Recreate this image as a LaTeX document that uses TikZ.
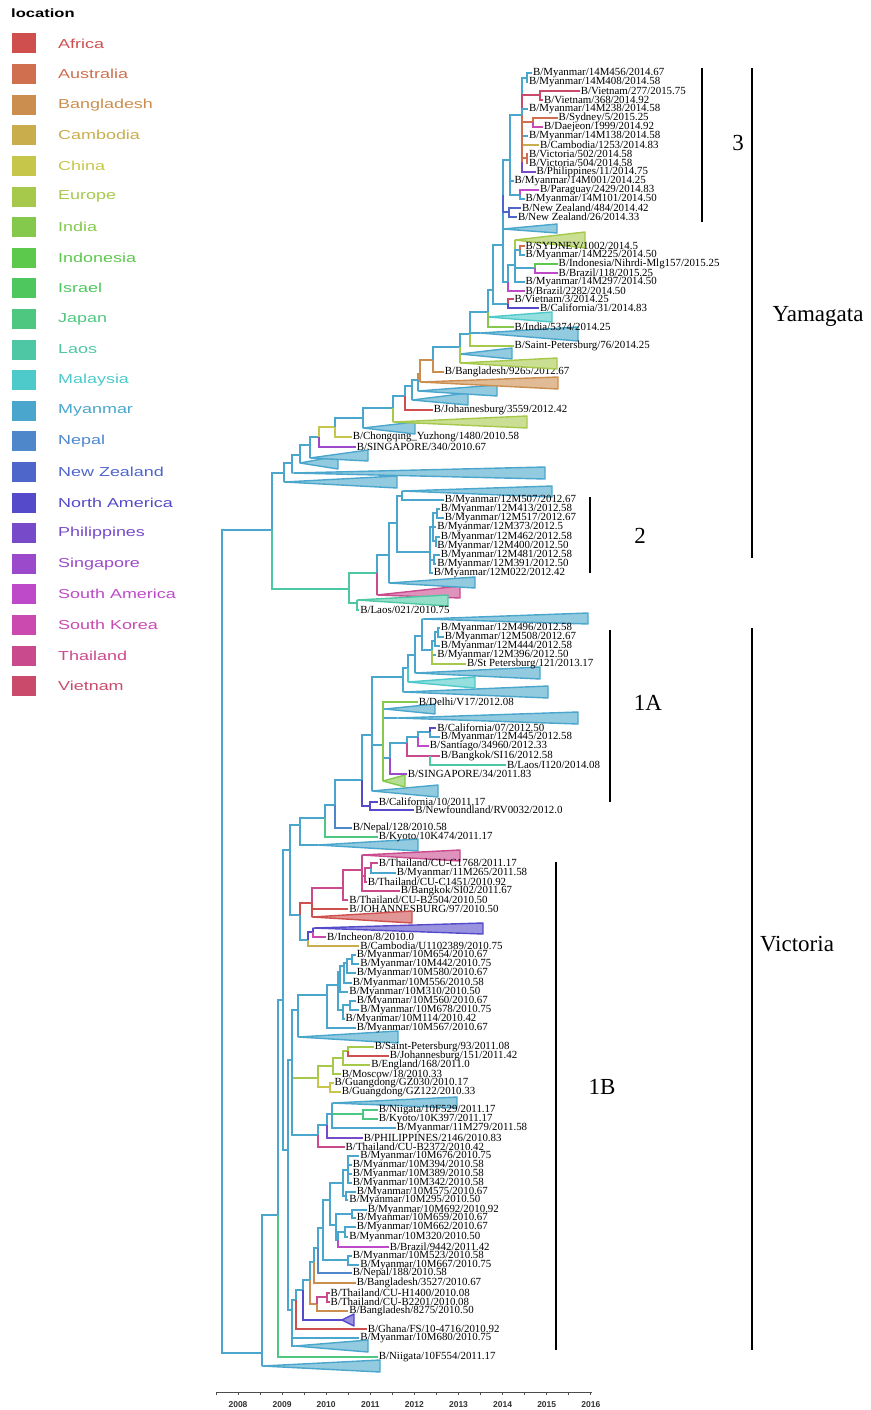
\documentclass[tikz,border=0pt]{standalone}
\usepackage{fontspec}
\setmainfont{Liberation Serif}
\newfontfamily\legfont[FakeStretch=1.38]{Liberation Sans}
\newfontfamily\axfont{Liberation Sans}

\definecolor{afr}{HTML}{CF4F4F}
\definecolor{aus}{HTML}{CF6F4F}
\definecolor{ban}{HTML}{CC8E4F}
\definecolor{cam}{HTML}{C9AD4C}
\definecolor{chn}{HTML}{C6C64B}
\definecolor{eur}{HTML}{A6C94B}
\definecolor{ind}{HTML}{84C94C}
\definecolor{ido}{HTML}{5CC84C}
\definecolor{isr}{HTML}{4EC85E}
\definecolor{jap}{HTML}{4EC880}
\definecolor{lao}{HTML}{4EC8A4}
\definecolor{mal}{HTML}{4ECACA}
\definecolor{mya}{HTML}{4AA6CC}
\definecolor{nep}{HTML}{4E87CA}
\definecolor{nzl}{HTML}{4E65CA}
\definecolor{nam}{HTML}{554ACA}
\definecolor{phi}{HTML}{774ACA}
\definecolor{sgp}{HTML}{9A4ACA}
\definecolor{sam}{HTML}{BE4ACA}
\definecolor{kor}{HTML}{CA4AB0}
\definecolor{tha}{HTML}{CA4A8E}
\definecolor{vie}{HTML}{CA4A6C}

\tikzset{
  br/.style={draw=#1, line width=2.2pt},
  tri/.style={draw=#1, fill=#1!60!white, line width=1.4pt, line join=round},
  lab/.style={anchor=west, inner sep=0.8pt, font=\fontsize{10.9}{11}\selectfont},
  leg/.style={anchor=west, inner sep=0pt, font=\legfont\fontsize{13}{13}\selectfont},
  brk/.style={draw=black, line width=1.1pt},
  clab/.style={font=\fontsize{23}{23}\selectfont},
  axis/.style={draw=black!70, line width=0.8pt}
}

% date -> x position
\newcommand{\yr}[1]{238+(#1-2008)*44.1}
% inner tree node: name, parent, colour, x, y
\newcommand{\fork}[5]{\coordinate (#1) at (#4,#5); \draw[br=#3] (#2) |- (#1);}
% tip: name, parent, colour, y, date, strain
\newcommand{\leaf}[6]{\node[lab] (#1) at ({\yr{#5}},#4) {#6/#5}; \draw[br=#3] (#2) |- (#1.west);}
% collapsed clade: name, parent, colour, x, y, right x, top y, bottom y
\newcommand{\clade}[8]{\coordinate (#1) at (#4,#5); \draw[br=#3] (#2) |- (#1);
  \draw[tri=#3] (#1) -- (#6,#7) -- (#6,#8) -- cycle;}

\begin{document}
\begin{tikzpicture}[x=1pt,y=-1pt]
\useasboundingbox (0,0) rectangle (870,1410);

% legend
\node[leg,font=\legfont\bfseries\fontsize{12}{12}\selectfont] (legtitle) at (11,13) {location};
\foreach \c/\t [count=\i from 0] in {afr/Africa,aus/Australia,ban/Bangladesh,cam/Cambodia,chn/China,eur/Europe,ind/India,ido/Indonesia,isr/Israel,jap/Japan,lao/Laos,mal/Malaysia,mya/Myanmar,nep/Nepal,nzl/New Zealand,nam/North America,phi/Philippines,sgp/Singapore,sam/South America,kor/South Korea,tha/Thailand,vie/Vietnam}{
  \fill[\c] (12,{33.5+\i*30.6}) rectangle (36,{53.5+\i*30.6});
  \node[leg,text=\c] (leg\i) at (58,{43.5+\i*30.6}) {\t};
}

% root
\coordinate (root) at (222,940);

% ---- Yamagata
\fork{A}{root}{mya}{272}{530}
\fork{A1}{A}{mya}{284}{473}
\fork{B}{A}{lao}{349}{589}
\fork{A2}{A1}{mya}{292}{463}
\clade{A1t}{A1}{mya}{284}{482}{397}{476}{488}
\fork{A3}{A2}{mya}{300}{455}
\clade{A2t}{A2}{mya}{292}{473}{545}{467}{479}
\fork{A4}{A3}{mya}{310}{445}
\clade{A3t}{A3}{mya}{300}{463}{338}{456}{469}
\fork{P}{A4}{mya}{319}{437}
\clade{A4t}{A4}{mya}{310}{458}{368}{450}{461}
\fork{Q}{P}{chn}{335}{427}
\leaf{sg340}{P}{sgp}{447}{2010.67}{B/SINGAPORE/340}
\fork{R}{Q}{mya}{363}{418}
\leaf{cq1480}{Q}{chn}{437}{2010.58}{B/Chongqing\_Yuzhong/1480}
\fork{S}{R}{mya}{393}{408}
\clade{Rt}{R}{mya}{363}{428}{415}{422}{434}
\fork{U}{S}{mya}{405}{396}
\clade{St}{S}{eur}{393}{422}{527}{416}{428}
\fork{V}{U}{mya}{412}{386}
\leaf{jo3559}{U}{afr}{410}{2012.42}{B/Johannesburg/3559}
\fork{W}{V}{mya}{418}{380}
\clade{Vt}{V}{mya}{412}{400}{468}{393}{405}
\fork{X}{W}{ban}{420}{374}
\clade{Wt}{W}{mya}{418}{391}{497}{385}{396}
\fork{Z}{X}{ban}{433}{360}
\clade{Xt}{X}{ban}{420}{382}{558}{377}{389}
\fork{AA}{Z}{mya}{460}{347}
\leaf{bd9265}{Z}{ban}{372}{2012.67}{B/Bangladesh/9265}
\fork{AB}{AA}{mya}{470}{334}
\clade{AAt}{AA}{mya}{460}{354}{512}{348}{359}
\clade{AAe}{AA}{eur}{460}{363}{557}{358}{369}
\fork{AC}{AB}{mya}{488}{312}
\clade{ABt}{AB}{mya}{480}{333}{578}{327}{341}
\leaf{sp76}{AB}{eur}{346}{2014.25}{B/Saint-Petersburg/76}
\fork{AD}{AC}{mya}{493}{290}
\clade{ACt}{AC}{mal}{488}{317}{552}{312}{322}
\leaf{in5374}{AC}{ind}{327}{2014.25}{B/India/5374}
\fork{AE}{AD}{mya}{503}{245}
\fork{vc3}{AD}{mya}{508}{304}
\leaf{vn3}{vc3}{vie}{299}{2014.25}{B/Vietnam/3}
\leaf{ca31}{vc3}{nam}{308}{2014.83}{B/California/31}
\fork{C3r}{AE}{mya}{503}{195}
\clade{AEt}{AE}{mya}{503}{229}{557}{224}{233}
\fork{AG}{AE}{mya}{508}{282}
\fork{AF}{AG}{mya}{515}{265}
\leaf{br2282}{AG}{sam}{291}{2014.50}{B/Brazil/2282}
\clade{AFe}{AF}{eur}{515}{240}{585}{232}{248}
\fork{SY}{AF}{mya}{520}{250}
\leaf{sy1002}{SY}{aus}{246}{2014.5}{B/SYDNEY/1002}
\leaf{m14M225}{SY}{mya}{255}{2014.50}{B/Myanmar/14M225}
\fork{IB}{AF}{mya}{535}{268}
\leaf{id157}{IB}{ido}{264}{2015.25}{B/Indonesia/Nihrdi-Mlg157}
\leaf{br118}{IB}{sam}{273}{2015.25}{B/Brazil/118}
\leaf{m14M297}{AF}{mya}{282}{2014.50}{B/Myanmar/14M297}

% clade 3
\fork{C3a}{C3r}{mya}{510}{160}
\fork{NZn}{C3r}{nzl}{509}{212}
\leaf{nz484}{NZn}{nzl}{208}{2014.42}{B/New Zealand/484}
\leaf{nz26}{NZn}{nzl}{217}{2014.33}{B/New Zealand/26}
\fork{C3b}{C3a}{mya}{522}{115}
\leaf{m14M001}{C3a}{mya}{181}{2014.25}{B/Myanmar/14M001}
\fork{PM}{C3a}{mya}{520}{195}
\leaf{pa2429}{PM}{sam}{190}{2014.83}{B/Paraguay/2429}
\leaf{m14M101}{PM}{mya}{199}{2014.50}{B/Myanmar/14M101}
\fork{TopN}{C3b}{mya}{527}{78}
\leaf{m14M456}{TopN}{mya}{73}{2014.67}{B/Myanmar/14M456}
\leaf{m14M408}{TopN}{mya}{82}{2014.58}{B/Myanmar/14M408}
\fork{VN}{C3b}{vie}{540}{95}
\leaf{vn277}{VN}{vie}{91}{2015.75}{B/Vietnam/277}
\leaf{vn368}{VN}{vie}{100}{2014.92}{B/Vietnam/368}
\leaf{m14M238}{C3b}{mya}{109}{2014.58}{B/Myanmar/14M238}
\fork{SD}{C3b}{aus}{533}{122}
\leaf{sy5}{SD}{aus}{118}{2015.25}{B/Sydney/5}
\leaf{dj1999}{SD}{kor}{127}{2014.92}{B/Daejeon/1999}
\leaf{m14M138}{C3b}{mya}{136}{2014.58}{B/Myanmar/14M138}
\leaf{cb1253}{C3b}{cam}{145}{2014.83}{B/Cambodia/1253}
\fork{VP}{C3b}{aus}{522}{162}
\fork{VIC}{VP}{aus}{527}{158}
\leaf{vi502}{VIC}{aus}{154}{2014.58}{B/Victoria/502}
\leaf{vi504}{VIC}{aus}{163}{2014.58}{B/Victoria/504}
\leaf{ph11}{VP}{phi}{172}{2014.75}{B/Philippines/11}

% clade 2
\fork{C}{B}{lao}{357}{603}
\fork{D}{B}{lao}{377}{573}
\fork{E}{D}{mya}{389}{555}
\clade{Dt}{D}{tha}{377}{595}{460}{586}{598}
\fork{F}{E}{mya}{397}{523}
\clade{Et}{E}{mya}{389}{583}{475}{577}{588}
\fork{G}{F}{mya}{402}{496}
\fork{H}{F}{mya}{430}{552}
\clade{Gt}{G}{mya}{402}{491}{552}{486}{497}
\leaf{m12M507}{G}{mya}{500}{2012.67}{B/Myanmar/12M507}
\fork{H1}{H}{mya}{433}{527}
\fork{H2}{H}{mya}{434}{560}
\leaf{m12M022}{H}{mya}{573}{2012.42}{B/Myanmar/12M022}
\fork{P413}{H1}{mya}{437}{513}
\leaf{m12M413}{P413}{mya}{509}{2012.58}{B/Myanmar/12M413}
\leaf{m12M517}{P413}{mya}{518}{2012.67}{B/Myanmar/12M517}
\leaf{m12M373}{H1}{mya}{527}{2012.5}{B/Myanmar/12M373}
\fork{H1b}{H1}{mya}{436}{541}
\leaf{m12M462}{H1b}{mya}{537}{2012.58}{B/Myanmar/12M462}
\leaf{m12M400}{H1b}{mya}{546}{2012.50}{B/Myanmar/12M400}
\leaf{m12M481}{H2}{mya}{555}{2012.58}{B/Myanmar/12M481}
\leaf{m12M391}{H2}{mya}{564}{2012.50}{B/Myanmar/12M391}
\clade{Ct}{C}{lao}{357}{600}{448}{595}{606}
\leaf{la021}{C}{lao}{610}{2010.75}{B/Laos/021}

% ---- Victoria
\fork{V0}{root}{mya}{262}{1353}
\fork{V1}{V0}{mya}{278}{1215}
\clade{V0t}{V0}{mya}{262}{1366}{380}{1360}{1372}
\fork{V2}{V1}{mya}{283}{1000}
\leaf{ni554}{V1}{jap}{1357}{2011.17}{B/Niigata/10F554}
\fork{VA}{V2}{mya}{290}{850}
\fork{VB}{V2}{mya}{288}{1150}
\fork{N15}{VA}{mya}{300}{825}
\fork{RB}{VA}{mya}{300}{915}
\fork{N14}{N15}{mya}{325}{818}
\clade{N15t}{N15}{mya}{318}{845}{418}{839}{851}
\fork{N13}{N14}{mya}{335}{805}
\leaf{ky474}{N14}{jap}{837}{2011.17}{B/Kyoto/10K474}
\fork{N12}{N13}{mya}{362}{780}
\leaf{np128}{N13}{nep}{828}{2010.58}{B/Nepal/128}
\fork{N10}{N12}{mya}{372}{735}
\fork{CN}{N12}{nam}{370}{806}
\leaf{ca10}{CN}{nam}{802}{2011.17}{B/California/10}
\leaf{nf32}{CN}{nam}{810}{2012.0}{B/Newfoundland/RV0032}

% clade 1A
\fork{N4}{N10}{mya}{403}{677}
\fork{N6}{N10}{mya}{383}{745}
\clade{N10t}{N10}{mya}{372}{791}{438}{785}{797}
\fork{N3}{N4}{mya}{408}{668}
\clade{N4t}{N4}{mya}{403}{692}{548}{686}{698}
\fork{N2}{N3}{mya}{415}{655}
\clade{N3t}{N3}{mal}{408}{682}{475}{677}{688}
\fork{N1}{N2}{mya}{422}{636}
\clade{N2t}{N2}{mya}{415}{673}{540}{667}{679}
\clade{N1t}{N1}{mya}{422}{619}{588}{613}{624}
\fork{K}{N1}{mya}{432}{650}
\fork{K1}{K}{mya}{435}{641}
\fork{K2}{K1}{mya}{438}{632}
\leaf{m12M496}{K2}{mya}{628}{2012.58}{B/Myanmar/12M496}
\leaf{m12M508}{K2}{mya}{637}{2012.67}{B/Myanmar/12M508}
\leaf{m12M444}{K1}{mya}{646}{2012.58}{B/Myanmar/12M444}
\leaf{m12M396}{K}{mya}{655}{2012.50}{B/Myanmar/12M396}
\leaf{sp121}{K}{eur}{664}{2013.17}{B/St Petersburg/121}
\clade{N6a}{N6}{mya}{385}{709}{435}{704}{714}
\clade{N6b}{N6}{mya}{397}{718}{578}{712}{724}
\fork{N7}{N6}{mya}{390}{758}
\leaf{dl17}{N6}{ind}{702}{2012.08}{B/Delhi/V17}
\clade{N6c}{N6}{ind}{383}{781}{405}{775}{787}
\fork{N8}{N7}{mya}{407}{743}
\leaf{sg34}{N7}{sgp}{774}{2011.83}{B/SINGAPORE/34}
\fork{N9}{N8}{mya}{418}{737}
\leaf{bk16}{N8}{tha}{756}{2012.58}{B/Bangkok/SI16}
\fork{LB}{N8}{tha}{430}{756}
\leaf{la1120}{LB}{lao}{765}{2014.08}{B/Laos/I120}
\fork{CM}{N9}{mya}{430}{732}
\leaf{sa34960}{N9}{sam}{746}{2012.33}{B/Santiago/34960}
\leaf{ca07}{CM}{nam}{728}{2012.50}{B/California/07}
\leaf{m12M445}{CM}{mya}{737}{2012.58}{B/Myanmar/12M445}

% Thailand / Africa group
\fork{RA}{RB}{afr}{312}{903}
\fork{IC}{RB}{mya}{308}{940}
\fork{TD}{RA}{tha}{343}{888}
\leaf{jo97}{RA}{afr}{909}{2010.50}{B/JOHANNESBURG/97}
\clade{RAt}{RA}{afr}{312}{917}{412}{911}{923}
\fork{TC}{TD}{tha}{362}{870}
\leaf{thB2504}{TD}{tha}{900}{2010.50}{B/Thailand/CU-B2504}
\clade{TCt}{TC}{tha}{362}{855}{460}{850}{861}
\fork{TB}{TC}{tha}{365}{876}
\leaf{bk02}{TC}{tha}{891}{2011.67}{B/Bangkok/SI02}
\fork{TA}{TB}{tha}{371}{868}
\leaf{thC1451}{TB}{tha}{882}{2010.92}{B/Thailand/CU-C1451}
\leaf{thC1768}{TA}{tha}{863}{2011.17}{B/Thailand/CU-C1768}
\leaf{m11M265}{TA}{mya}{873}{2011.58}{B/Myanmar/11M265}
\fork{IN}{IC}{nam}{313}{932}
\leaf{cbU}{IC}{cam}{946}{2010.75}{B/Cambodia/U1102389}
\clade{INt}{IN}{nam}{313}{928}{483}{923}{934}
\leaf{ic8}{IN}{kor}{937}{2010.0}{B/Incheon/8}

% clade 1B
\fork{VC}{VB}{mya}{292}{1060}
\fork{VD}{VB}{mya}{292}{1310}
\fork{M9}{VC}{mya}{298}{1010}
\fork{E4}{VC}{eur}{318}{1078}
\fork{J5}{VC}{mya}{318}{1135}
\fork{M8}{M9}{mya}{327}{995}
\clade{M9t}{M9}{mya}{298}{1037}{398}{1031}{1043}
\fork{M7}{M8}{mya}{338}{985}
\leaf{m10M567}{M8}{mya}{1028}{2010.67}{B/Myanmar/10M567}
\fork{M4}{M7}{mya}{340}{972}
\fork{M6}{M7}{mya}{343}{1010}
\fork{M3}{M4}{mya}{344}{966}
\leaf{m10M310}{M4}{mya}{992}{2010.50}{B/Myanmar/10M310}
\fork{M2}{M3}{mya}{347}{963}
\leaf{m10M556}{M3}{mya}{983}{2010.58}{B/Myanmar/10M556}
\fork{M1}{M2}{mya}{352}{959}
\leaf{m10M580}{M2}{mya}{973}{2010.67}{B/Myanmar/10M580}
\leaf{m10M654}{M1}{mya}{955}{2010.67}{B/Myanmar/10M654}
\leaf{m10M442}{M1}{mya}{964}{2010.75}{B/Myanmar/10M442}
\fork{M5}{M6}{mya}{350}{1005}
\leaf{m10M114}{M6}{mya}{1019}{2010.42}{B/Myanmar/10M114}
\leaf{m10M560}{M5}{mya}{1001}{2010.67}{B/Myanmar/10M560}
\leaf{m10M678}{M5}{mya}{1010}{2010.75}{B/Myanmar/10M678}
\fork{E3}{E4}{eur}{333}{1066}
\fork{C1}{E4}{chn}{330}{1087}
\fork{E2}{E3}{eur}{343}{1058}
\leaf{mo18}{E3}{eur}{1074}{2010.33}{B/Moscow/18}
\fork{E1}{E2}{eur}{348}{1051}
\leaf{en168}{E2}{eur}{1065}{2011.0}{B/England/168}
\leaf{sp93}{E1}{eur}{1047}{2011.08}{B/Saint-Petersburg/93}
\leaf{jo151}{E1}{afr}{1056}{2011.42}{B/Johannesburg/151}
\leaf{gz030}{C1}{chn}{1083}{2010.17}{B/Guangdong/GZ030}
\leaf{gz122}{C1}{chn}{1092}{2010.33}{B/Guangdong/GZ122}
\fork{J4}{J5}{mya}{327}{1125}
\leaf{thB2372}{J5}{tha}{1147}{2010.42}{B/Thailand/CU-B2372}
\fork{J0}{J4}{mya}{332}{1114}
\leaf{ph2146}{J4}{phi}{1138}{2010.83}{B/PHILIPPINES/2146}
\clade{J0t}{J0}{mya}{332}{1103}{457}{1097}{1108}
\fork{J1}{J0}{jap}{363}{1114}
\leaf{m11M279}{J0}{mya}{1128}{2011.58}{B/Myanmar/11M279}
\leaf{ni529}{J1}{jap}{1110}{2011.17}{B/Niigata/10F529}
\leaf{ky397}{J1}{jap}{1119}{2011.17}{B/Kyoto/10K397}

\fork{Q17}{VD}{mya}{296}{1300}
\leaf{m10M680}{VD}{mya}{1338}{2010.75}{B/Myanmar/10M680}
\clade{VDt}{VD}{mya}{295}{1346}{368}{1340}{1352}
\fork{Q16}{Q17}{mya}{303}{1290}
\leaf{gh4716}{Q17}{afr}{1329}{2010.92}{B/Ghana/FS/10-4716}
\fork{Q15}{Q16}{mya}{310}{1280}
\clade{Q16t}{Q16}{nam}{342}{1320}{354}{1314}{1326}
\fork{Q13}{Q15}{mya}{314}{1262}
\fork{Q14}{Q15}{ban}{317}{1304}
\fork{TT}{Q14}{tha}{327}{1297}
\leaf{bd8275}{Q14}{ban}{1311}{2010.50}{B/Bangladesh/8275}
\leaf{thH1400}{TT}{tha}{1293}{2010.08}{B/Thailand/CU-H1400}
\leaf{thB2201}{TT}{tha}{1302}{2010.08}{B/Thailand/CU-B2201}
\fork{Q12}{Q13}{mya}{318}{1248}
\leaf{bd3527}{Q13}{ban}{1283}{2010.67}{B/Bangladesh/3527}
\fork{Q11}{Q12}{mya}{323}{1228}
\leaf{np188}{Q12}{nep}{1273}{2010.58}{B/Nepal/188}
\fork{Q10}{Q11}{mya}{330}{1200}
\fork{Q9}{Q11}{mya}{348}{1260}
\leaf{m10M523}{Q9}{mya}{1256}{2010.58}{B/Myanmar/10M523}
\leaf{m10M667}{Q9}{mya}{1265}{2010.75}{B/Myanmar/10M667}
\fork{Q4}{Q10}{mya}{343}{1183}
\fork{Q8}{Q10}{mya}{336}{1225}
\fork{Q1}{Q4}{mya}{348}{1170}
\fork{Q3}{Q4}{mya}{346}{1196}
\leaf{m10M676}{Q1}{mya}{1156}{2010.75}{B/Myanmar/10M676}
\leaf{m10M394}{Q1}{mya}{1165}{2010.58}{B/Myanmar/10M394}
\leaf{m10M389}{Q1}{mya}{1174}{2010.58}{B/Myanmar/10M389}
\leaf{m10M342}{Q1}{mya}{1183}{2010.58}{B/Myanmar/10M342}
\leaf{m10M575}{Q3}{mya}{1192}{2010.67}{B/Myanmar/10M575}
\leaf{m10M295}{Q3}{mya}{1200}{2010.50}{B/Myanmar/10M295}
\fork{Q5}{Q8}{mya}{352}{1214}
\fork{Q7}{Q8}{mya}{338}{1240}
\leaf{m10M692}{Q5}{mya}{1210}{2010.92}{B/Myanmar/10M692}
\leaf{m10M659}{Q5}{mya}{1218}{2010.67}{B/Myanmar/10M659}
\fork{Q6}{Q7}{mya}{345}{1232}
\leaf{br9442}{Q7}{sam}{1247}{2011.42}{B/Brazil/9442}
\leaf{m10M662}{Q6}{mya}{1227}{2010.67}{B/Myanmar/10M662}
\leaf{m10M320}{Q6}{mya}{1237}{2010.50}{B/Myanmar/10M320}

% clade brackets
\draw[brk] (702,68) -- (702,222);
\node[clab] (cl3) at (738,143) {3};
\draw[brk] (752,68) -- (752,558);
\node[clab] (clY) at (818,316) {Yamagata};
\draw[brk] (590,497) -- (590,573);
\node[clab] (cl2) at (640,536) {2};
\draw[brk] (610,630) -- (610,802);
\node[clab] (cl1A) at (648,703) {1A};
\draw[brk] (752,628) -- (752,1350);
\node[clab] (clV) at (797,944) {Victoria};
\draw[brk] (556,862) -- (556,1350);
\node[clab] (cl1B) at (602,1087) {1B};

% time axis
\draw[axis] (216,1392) -- (592,1392);
\foreach \k in {0,...,17} \draw[axis] ({216+\k*22.05},1392) -- ++(0,3);
\foreach \yy [count=\k from 0] in {2008,...,2016}
  \node[font=\axfont\bfseries\fontsize{8.5}{9}\selectfont,text=black!80] (yr\yy) at ({238+\k*44.1},1405) {\yy};
\end{tikzpicture}
\end{document}
